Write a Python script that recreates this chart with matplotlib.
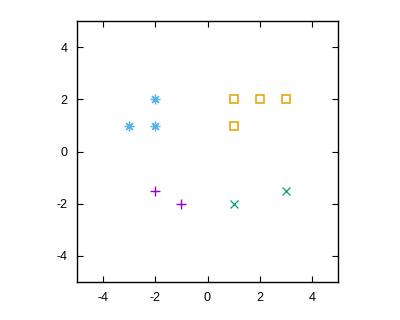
import matplotlib
matplotlib.use("Agg")
import matplotlib.pyplot as plt

# point groups (x, y)
plus_x = [-2, -1]
plus_y = [-1.5, -2]
cross_x = [1, 3]
cross_y = [-2, -1.5]
star_x = [-3, -2, -2]
star_y = [1, 1, 2]
square_x = [1, 2, 3, 1]
square_y = [2, 2, 2, 1]

ticks = [-4, -2, 0, 2, 4]

plt.rcParams["font.family"] = ["Liberation Sans", "DejaVu Sans"]

fig = plt.figure(figsize=(4, 3.2), dpi=100)
ax = fig.add_axes([0.1925, 0.11875, 0.6525, 0.815])

ax.plot(plus_x, plus_y, linestyle="none", marker="+", color="#9400D3",
        markersize=7, markeredgewidth=1.0)
ax.plot(cross_x, cross_y, linestyle="none", marker="x", color="#009E73",
        markersize=5.5, markeredgewidth=0.9)
ax.plot(star_x, star_y, linestyle="none", marker=(8, 2, 0), color="#56B4E9",
        markersize=7, markeredgewidth=0.9)
ax.plot(square_x, square_y, linestyle="none", marker="s", color="#E69F00",
        markerfacecolor="none", markersize=5.5, markeredgewidth=1.1)

ax.set_xlim(-5, 5)
ax.set_ylim(-5, 5)
ax.set_xticks(ticks)
ax.set_yticks(ticks)
ax.tick_params(direction="in", length=4.5, width=0.8, top=True, right=True,
               labelsize=9, pad=7, colors="black")
ax.set_xticklabels([str(t) for t in ticks])
ax.set_yticklabels([str(t) for t in ticks])
for s in ax.spines.values():
    s.set_linewidth(1.0)

fig.savefig("out.png", dpi=100)
